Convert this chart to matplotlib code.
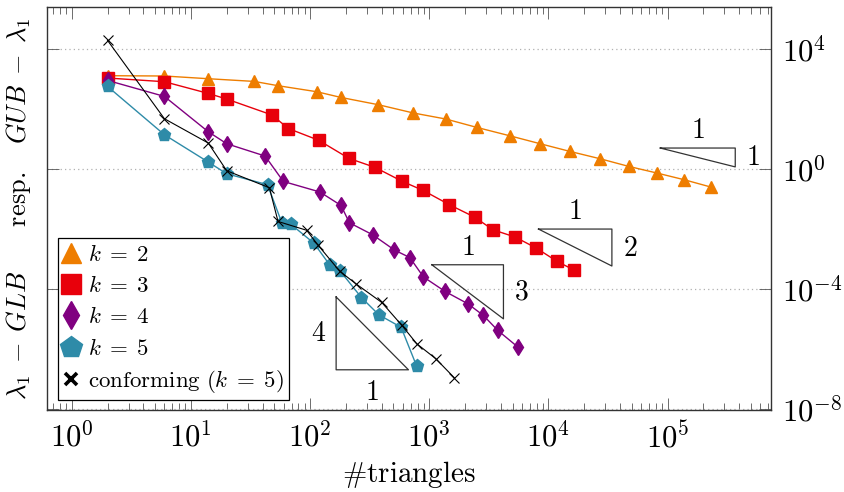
import numpy as np
import matplotlib
matplotlib.use('Agg')
import matplotlib.pyplot as plt
from matplotlib.ticker import FixedLocator, FixedFormatter, LogLocator, NullFormatter, NullLocator

plt.rcParams['mathtext.fontset'] = 'cm'

# Daten (Anzahl Dreiecke, Fehlerschranke)
tri_k2 = [2, 6, 14, 34, 54, 114, 181, 375, 738, 1380, 2510, 4720, 8540,
          15200, 27200, 47400, 81500, 138000, 231000]
err_k2 = [1290, 1260, 1023, 832, 598, 377, 244, 139, 73.6, 46.4, 24.4, 12.9,
          6.97, 3.86, 2.20, 1.22, 0.736, 0.44, 0.251]

tri_k3 = [2, 6, 14, 20, 47.8, 65.8, 118, 212, 352, 596, 889, 1479, 2400,
          3422, 5265, 7900, 11860, 16250]
err_k3 = [1080, 813, 331, 215, 63.6, 22.4, 9.12, 2.27, 1.13, 0.386, 0.194,
          0.0645, 0.0251, 0.00948, 0.00541, 0.00233, 0.000832, 0.00044]

tri_k4 = [2, 6, 14, 20, 42, 59.7, 121, 182, 214, 335, 511, 688, 895, 1361,
          2110, 2851, 3767, 5546]
err_k4 = [898, 263, 17.5, 6.97, 2.71, 0.386, 0.172, 0.0612, 0.0162, 0.00646,
          0.002, 0.00112, 0.000253, 8.3e-5, 3.24e-5, 1.32e-5, 4.17e-6, 1.17e-6]

tri_k5 = [2, 6, 14, 20, 44, 58, 68.9, 108, 147, 179, 270, 378, 581, 787]
err_k5 = [566, 13.9, 1.71, 0.697, 0.3, 0.0162, 0.0145, 0.00336, 0.000621,
          0.000401, 5.21e-5, 1.39e-5, 5.33e-6, 2.63e-7]

tri_conf = [2, 6, 14, 20, 45.6, 53.9, 93.6, 117, 177, 241, 400, 589, 787,
            1132, 1620]
err_conf = [19360, 47.5, 7.36, 0.878, 0.238, 0.0179, 0.00912, 0.00288,
            0.000398, 0.000153, 3.58e-5, 6.21e-6, 1.5e-6, 4.83e-7, 1.12e-7]

# Steigungsdreiecke: (log10 x0, log10 x1, log10 y0, Steigung)
slopes = [(4.939, 5.568, 0.70, 1),
          (3.917, 4.533, -2.00, 2),
          (3.022, 3.623, -3.19, 3)]
slope4 = (2.219, 2.826, -6.69, 4)

xtick_labels = [r'$10^{0}$', r'$10^{1}$', r'$10^{2}$', r'$10^{3}$', r'$10^{4}$', r'$10^{5}$']
ytick_vals = [1e-8, 1e-4, 1e0, 1e4]
ytick_labels = [r'$10^{-8}$', r'$10^{-4}$', r'$10^{0}$', r'$10^{4}$']

c_orange = '#EE7D00'
c_red = '#E8000B'
c_purple = '#800080'
c_blue = '#2E8BA8'

fig = plt.figure(figsize=(8.44, 4.92), dpi=100)
ax = fig.add_axes([47/844, 1 - 410/492, 724/844, 403/492])

ax.plot(tri_k2, err_k2, '-', color=c_orange, lw=1.0, marker='^', ms=8,
        mec=c_orange, mfc=c_orange, label=r'$k\;=\;2$')
ax.plot(tri_k3, err_k3, '-', color=c_red, lw=1.0, marker='s', ms=9,
        mec=c_red, mfc=c_red, label=r'$k\;=\;3$')
ax.plot(tri_k4, err_k4, '-', color=c_purple, lw=1.0, marker='d', ms=8.5,
        mec=c_purple, mfc=c_purple, label=r'$k\;=\;4$')
ax.plot(tri_k5, err_k5, '-', color=c_blue, lw=1.0, marker='p', ms=9.5,
        mec=c_blue, mfc=c_blue, label=r'$k\;=\;5$')
ax.plot(tri_conf, err_conf, '-', color='black', lw=0.8, marker='x', ms=7,
        mew=0.8, label=r'$\mathrm{conforming}\ (k\;=\;5)$')

# Steigungsdreiecke zeichnen
tri_col = '#333333'
for lx0, lx1, ly0, s in slopes:
    ly1 = ly0 - s * (lx1 - lx0)
    xs = 10 ** np.array([lx0, lx1, lx1, lx0])
    ys = 10 ** np.array([ly0, ly0, ly1, ly0])
    ax.plot(xs, ys, color=tri_col, lw=0.9)
    ax.annotate('$1$', (10 ** ((lx0 + lx1) / 2), 10 ** ly0), xytext=(0, 13),
                textcoords='offset points', ha='center', va='center', fontsize=20)
    ax.annotate('$%d$' % s, (10 ** lx1, 10 ** ((ly0 + ly1) / 2)), xytext=(13, 0),
                textcoords='offset points', ha='center', va='center', fontsize=20)

lx0, lx1, lyb, s = slope4
lyt = lyb + s * (lx1 - lx0)
xs = 10 ** np.array([lx0, lx0, lx1, lx0])
ys = 10 ** np.array([lyt, lyb, lyb, lyt])
ax.plot(xs, ys, color=tri_col, lw=0.9)
ax.annotate('$4$', (10 ** lx0, 10 ** ((lyt + lyb) / 2)), xytext=(-13, 0),
            textcoords='offset points', ha='center', va='center', fontsize=20)
ax.annotate('$1$', (10 ** ((lx0 + lx1) / 2), 10 ** lyb), xytext=(0, -16),
            textcoords='offset points', ha='center', va='center', fontsize=20)

ax.set_xscale('log')
ax.set_yscale('log')
ax.set_xlim(10 ** -0.207, 10 ** 5.868)
ax.set_ylim(10 ** -8.03, 10 ** 5.4)

ax.xaxis.set_major_locator(FixedLocator([1, 10, 100, 1e3, 1e4, 1e5]))
ax.xaxis.set_major_formatter(FixedFormatter(xtick_labels))
ax.xaxis.set_minor_locator(LogLocator(base=10, subs=np.arange(2, 10), numticks=20))
ax.xaxis.set_minor_formatter(NullFormatter())
ax.yaxis.set_major_locator(FixedLocator(ytick_vals))
ax.yaxis.set_major_formatter(FixedFormatter(ytick_labels))
ax.yaxis.set_minor_locator(NullLocator())

ax.tick_params(axis='both', which='both', direction='in', color='#555555', width=0.6)
ax.tick_params(axis='x', which='major', length=8.5, top=True, bottom=True, labelsize=22, pad=8)
ax.tick_params(axis='x', which='minor', length=5.2, top=True, bottom=True)
ax.tick_params(axis='y', which='major', length=8.5, left=True, right=True,
               labelleft=False, labelright=True, labelsize=22, pad=8)

ax.grid(True, axis='y', which='major', linestyle=(0, (1, 2.5)), color='#b0b0b0', lw=0.9)
for sp in ax.spines.values():
    sp.set_color('#333333')
    sp.set_linewidth(1.0)

ax.set_xlabel(r'$\#\mathrm{triangles}$', fontsize=21, labelpad=4)
ax.set_ylabel(r'$\lambda_1 \;-\; GLB\qquad\mathrm{resp.}\quad GUB \;-\; \lambda_1$', fontsize=19)
ax.yaxis.set_label_coords(-0.02, 0.5)

leg = ax.legend(loc='lower left', bbox_to_anchor=(0.015, 0.025), borderaxespad=0,
                fontsize=16.5, frameon=True, fancybox=False, framealpha=1,
                edgecolor='black', labelspacing=0.36, handlelength=0.7,
                handletextpad=0.4, borderpad=0.22)
leg.get_frame().set_linewidth(0.9)
leg_ms = [14.5, 15, 14, 16, 8]
for h, m in zip(leg.get_lines(), leg_ms):
    h.set_linestyle('')
    h.set_markersize(m)
leg.get_lines()[-1].set_markeredgewidth(2.6)

fig.savefig('out.png', dpi=100)
